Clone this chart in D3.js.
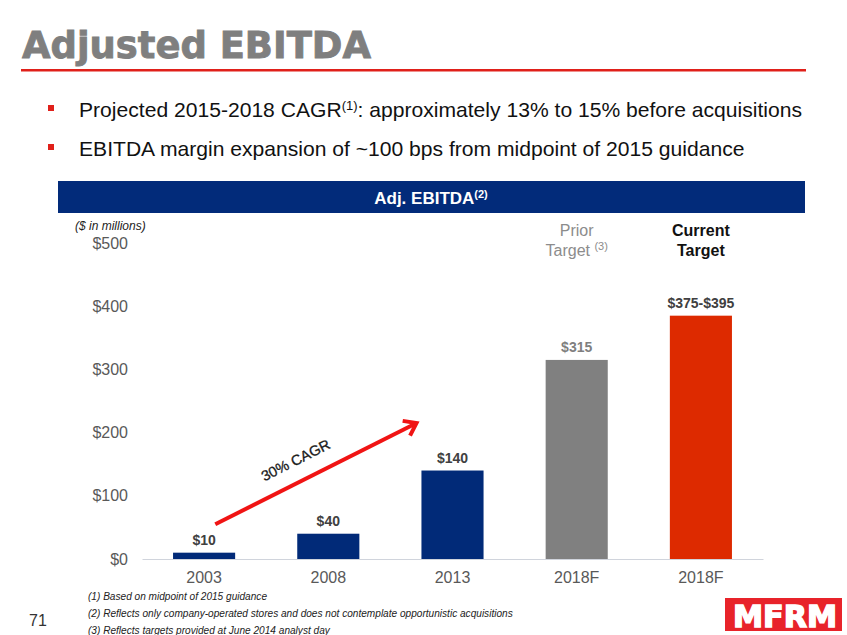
<!DOCTYPE html>
<html>
<head>
<meta charset="utf-8">
<script src="https://cdn.jsdelivr.net/npm/d3@7/dist/d3.min.js"></script>
<style>
  body { margin: 0; background: #fff; }
  svg { display: block; font-family: "Liberation Sans", Arial, sans-serif; }
</style>
</head>
<body>
<svg id="chart"></svg>
<script>
// data
const categories = ["2003", "2008", "2013", "2018F", "2018F"];
const values = [10, 40, 140, 315, 385];
const valueLabels = ["$10", "$40", "$140", "$315", "$375-$395"];
const yTicks = [0, 100, 200, 300, 400, 500];
const bullets = [
  ["Projected 2015-2018 CAGR", "(1)", ": approximately 13% to 15% before acquisitions"],
  ["EBITDA margin expansion of ~100 bps from midpoint of 2015 guidance", "", ""]
];
const footnotes = [
  "(1)  Based on midpoint of 2015 guidance",
  "(2)  Reflects only company-operated stores and does not contemplate opportunistic acquisitions",
  "(3)  Reflects targets provided at June 2014 analyst day"
];
// CAGR arrow, in (bar position, value) terms
const cagrFrom = [0.09, 55];
const cagrTo = [1.71, 215];

const width = 847, height = 635;
const svg = d3.select("#chart").attr("width", width).attr("height", height);

const barColors = ["#012a78", "#012a78", "#012a78", "#808080", "#dd2a00"];
const labelColors = ["#404040", "#404040", "#404040", "#7f7f7f", "#404040"];

// ---- title
svg.append("text")
  .attr("x", 22).attr("y", 58)
  .attr("font-family", "DejaVu Sans")
  .attr("font-weight", "bold")
  .attr("font-size", 38)
  .attr("fill", "#7f7f7f")
  .attr("stroke", "#7f7f7f").attr("stroke-width", 0.9)
  .attr("textLength", 349).attr("lengthAdjust", "spacingAndGlyphs")
  .text("Adjusted EBITDA");

svg.append("rect")
  .attr("x", 21).attr("y", 69).attr("width", 785).attr("height", 2.5)
  .attr("fill", "#e0201a");

// ---- bullets
bullets.forEach((b, i) => {
  const y = 117 + i * 39;
  svg.append("rect")
    .attr("x", 48).attr("y", y - 12).attr("width", 6).attr("height", 6)
    .attr("fill", "#e0201a");
  const t = svg.append("text")
    .attr("x", 79).attr("y", y)
    .attr("font-size", 21.1).attr("fill", "#111");
  t.append("tspan").text(b[0]);
  if (b[1]) {
    t.append("tspan").attr("dy", -7).attr("font-size", 13).text(b[1]);
    t.append("tspan").attr("dy", 7).text(b[2]);
  }
});

// ---- banner
svg.append("rect")
  .attr("x", 58).attr("y", 181).attr("width", 747).attr("height", 32)
  .attr("fill", "#022b7a");
const bt = svg.append("text")
  .attr("x", 431).attr("y", 204)
  .attr("text-anchor", "middle")
  .attr("font-size", 17).attr("font-weight", "bold").attr("fill", "#fff");
bt.append("tspan").text("Adj. EBITDA");
bt.append("tspan").attr("dy", -6).attr("font-size", 11).text("(2)");

svg.append("text")
  .attr("x", 75).attr("y", 230)
  .attr("font-size", 12).attr("font-style", "italic").attr("fill", "#222")
  .text("($ in millions)");

// ---- chart
const xScale = d3.scaleBand()
  .domain(d3.range(values.length))
  .range([142, 763])
  .paddingInner(0.5)
  .paddingOuter(0.25);

const yScale = d3.scaleLinear()
  .domain([0, 500])
  .range([559, 243]);

const yAxis = d3.axisLeft(yScale)
  .tickValues(yTicks)
  .tickSize(0)
  .tickPadding(14)
  .tickFormat(d => "$" + d);

const yAxisG = svg.append("g")
  .attr("transform", "translate(142,0)")
  .call(yAxis);
yAxisG.select(".domain").remove();
yAxisG.selectAll("text")
  .attr("font-size", 16)
  .attr("font-family", "Liberation Sans, Arial, sans-serif")
  .attr("fill", "#595959");

const xAxis = d3.axisBottom(xScale)
  .tickSize(0)
  .tickPadding(13)
  .tickFormat(i => categories[i]);

const xAxisG = svg.append("g")
  .attr("transform", `translate(0,${yScale(0)})`)
  .call(xAxis);
xAxisG.select(".domain").attr("stroke", "#d0d4dc").attr("stroke-width", 1);
xAxisG.selectAll("text")
  .attr("font-size", 16)
  .attr("font-family", "Liberation Sans, Arial, sans-serif")
  .attr("fill", "#595959");

svg.append("g")
  .selectAll("rect")
  .data(values)
  .join("rect")
    .attr("x", (d, i) => xScale(i))
    .attr("y", d => yScale(d))
    .attr("width", xScale.bandwidth())
    .attr("height", d => yScale(0) - yScale(d))
    .attr("fill", (d, i) => barColors[i]);

svg.append("g")
  .selectAll("text")
  .data(values)
  .join("text")
    .attr("x", (d, i) => xScale(i) + xScale.bandwidth() / 2)
    .attr("y", d => yScale(d) - 8)
    .attr("text-anchor", "middle")
    .attr("font-size", 14)
    .attr("font-weight", "bold")
    .attr("fill", (d, i) => labelColors[i])
    .text((d, i) => valueLabels[i]);

// column headers
const priorX = xScale(3) + xScale.bandwidth() / 2;
const currX = xScale(4) + xScale.bandwidth() / 2;
svg.append("text")
  .attr("x", priorX).attr("y", 236)
  .attr("text-anchor", "middle").attr("font-size", 16).attr("fill", "#8c8c8c")
  .text("Prior");
const pt = svg.append("text")
  .attr("x", priorX).attr("y", 256)
  .attr("text-anchor", "middle").attr("font-size", 16).attr("fill", "#8c8c8c");
pt.append("tspan").text("Target ");
pt.append("tspan").attr("dy", -6).attr("font-size", 11).text("(3)");
svg.append("text")
  .attr("x", currX).attr("y", 236)
  .attr("text-anchor", "middle").attr("font-size", 16).attr("font-weight", "bold").attr("fill", "#111")
  .text("Current");
svg.append("text")
  .attr("x", currX).attr("y", 256)
  .attr("text-anchor", "middle").attr("font-size", 16).attr("font-weight", "bold").attr("fill", "#111")
  .text("Target");

// CAGR arrow: bar position -> x along the band centres
const bx = p => xScale(0) + xScale.bandwidth() / 2 + p * xScale.step();
const x1 = bx(cagrFrom[0]), y1 = yScale(cagrFrom[1]);
const x2 = bx(cagrTo[0]), y2 = yScale(cagrTo[1]);
const ang = Math.atan2(y2 - y1, x2 - x1);
const arrow = svg.append("g")
  .attr("stroke", "#f01414").attr("stroke-width", 4).attr("fill", "none")
  .attr("stroke-linecap", "butt");
arrow.append("line")
  .attr("x1", x1).attr("y1", y1).attr("x2", x2 - 2 * Math.cos(ang)).attr("y2", y2 - 2 * Math.sin(ang));
const hl = 14, ha = Math.PI / 5;
arrow.append("path")
  .attr("stroke-linejoin", "miter")
  .attr("d", `M${x2 - hl * Math.cos(ang - ha)},${y2 - hl * Math.sin(ang - ha)}L${x2},${y2}L${x2 - hl * Math.cos(ang + ha)},${y2 - hl * Math.sin(ang + ha)}`);

const mx = (x1 + x2) / 2 - 18, my = (y1 + y2) / 2 - 9;
svg.append("text")
  .attr("transform", `translate(${mx},${my}) rotate(${ang * 180 / Math.PI})`)
  .attr("text-anchor", "middle")
  .attr("font-size", 14.5).attr("fill", "#1a1a1a")
  .attr("stroke", "#1a1a1a").attr("stroke-width", 0.3)
  .text("30% CAGR");

// ---- footer
footnotes.forEach((f, i) => {
  svg.append("text")
    .attr("x", 88).attr("y", 600 + i * 17)
    .attr("font-size", 10.1).attr("font-style", "italic").attr("fill", "#222")
    .text(f);
});

svg.append("text")
  .attr("x", 29).attr("y", 626)
  .attr("font-size", 16).attr("fill", "#333")
  .text("71");

svg.append("rect")
  .attr("x", 725).attr("y", 598).attr("width", 117).attr("height", 33)
  .attr("fill", "#e8232a");
svg.append("text")
  .attr("x", 733).attr("y", 627)
  .attr("font-family", "DejaVu Sans").attr("font-weight", "bold")
  .attr("font-size", 31).attr("fill", "#fff")
  .attr("stroke", "#fff").attr("stroke-width", 1.5)
  .attr("textLength", 104).attr("lengthAdjust", "spacingAndGlyphs")
  .text("MFRM");
</script>
</body>
</html>
